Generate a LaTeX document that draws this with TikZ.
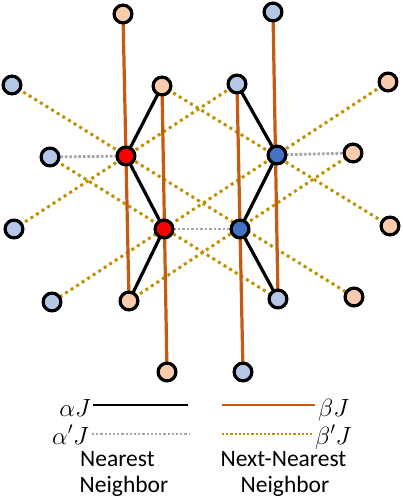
\documentclass[tikz,border=0pt]{standalone}
\usepackage{fontspec}
\setmainfont{Carlito}
\usetikzlibrary{backgrounds}
\definecolor{redN}{HTML}{FF0000}
\definecolor{blueN}{HTML}{4472C4}
\definecolor{pinkN}{HTML}{F8CBAD}
\definecolor{lblueN}{HTML}{B4C7E7}
\definecolor{orangeL}{HTML}{C55A11}
\definecolor{goldL}{HTML}{BF9000}
\definecolor{grayL}{HTML}{A5A5A5}
\begin{document}
\begin{tikzpicture}[x=1pt,y=-1pt,
  site/.style={circle,draw=black,line width=3.2pt,minimum size=17.8pt,inner sep=0pt},
  redsite/.style={site,fill=redN},
  bluesite/.style={site,fill=blueN},
  pinksite/.style={site,fill=pinkN},
  lbluesite/.style={site,fill=lblueN},
  nn/.style={draw=black,line width=3.2pt},
  nnp/.style={draw=grayL,line width=2.8pt,dash pattern=on 2.7pt off 1.8pt},
  nnn/.style={draw=orangeL,line width=3.2pt},
  nnnp/.style={draw=goldL,line width=3pt,dash pattern=on 3pt off 3.6pt},
  lab/.style={inner sep=0pt,font=\fontsize{23.5}{28}\selectfont},
  mlab/.style={inner sep=0pt,text height=16pt,text depth=0.5pt,font=\fontsize{25}{30}\selectfont}]
\useasboundingbox (0,0) rectangle (402,500);
% central sites
\node[redsite] (A) at (126,156) {};
\node[bluesite] (B) at (277,155) {};
\node[redsite] (C) at (164,229) {};
\node[bluesite] (D) at (240,229) {};
% outer sites
\node[pinksite] (p1) at (123,14) {};
\node[pinksite] (p2) at (162,86) {};
\node[lbluesite] (l1) at (12,85) {};
\node[lbluesite] (l2) at (50,157) {};
\node[lbluesite] (l3) at (273,12) {};
\node[lbluesite] (l4) at (237,84) {};
\node[pinksite] (p3) at (388,82) {};
\node[pinksite] (p4) at (353,153) {};
\node[lbluesite] (l5) at (14,229) {};
\node[lbluesite] (l6) at (52,302) {};
\node[pinksite] (p5) at (129,301) {};
\node[pinksite] (p6) at (167,372) {};
\node[pinksite] (p7) at (390,226) {};
\node[lbluesite] (l7) at (278,299) {};
\node[pinksite] (p8) at (354,297) {};
\node[lbluesite] (l8) at (243,372) {};
\begin{pgfonlayer}{background}
  % next-nearest primed (gold dotted)
  \draw[nnnp] (l1.center) -- (p8.center);
  \draw[nnnp] (l5.center) -- (l4.center);
  \draw[nnnp] (p2.center) -- (p7.center);
  \draw[nnnp] (p3.center) -- (l6.center);
  \draw[nnnp] (l2.center) -- (l7.center);
  \draw[nnnp] (p5.center) -- (p4.center);
  % nearest primed (gray dotted)
  \draw[nnp] (A.center) -- (l2.center);
  \draw[nnp] (C.center) -- (D.center);
  \draw[nnp] (B.center) -- (p4.center);
  % next-nearest (orange)
  \draw[nnn] (p1.center) -- (p5.center);
  \draw[nnn] (p2.center) -- (p6.center);
  \draw[nnn] (l4.center) -- (l8.center);
  \draw[nnn] (l3.center) -- (l7.center);
  % nearest (black)
  \draw[nn] (A.center) -- (p2.center);
  \draw[nn] (A.center) -- (C.center);
  \draw[nn] (C.center) -- (p5.center);
  \draw[nn] (B.center) -- (l4.center);
  \draw[nn] (B.center) -- (D.center);
  \draw[nn] (D.center) -- (l7.center);
\end{pgfonlayer}
% legend
\coordinate (k1a) at (93,405);  \coordinate (k1b) at (188,405);
\coordinate (k2a) at (222,405); \coordinate (k2b) at (315,405);
\coordinate (k3a) at (92,434);  \coordinate (k3b) at (190,434);
\coordinate (k4a) at (222,434); \coordinate (k4b) at (312,434);
\draw[draw=black,line width=2.8pt] (k1a) -- (k1b);
\draw[draw=orangeL,line width=2.8pt] (k2a) -- (k2b);
\draw[draw=grayL,line width=2.2pt,dash pattern=on 2.2pt off 2pt] (k3a) -- (k3b);
\draw[draw=goldL,line width=2.2pt,dash pattern=on 2.2pt off 2pt] (k4a) -- (k4b);
\node[mlab,anchor=base east] (ta) at (91,416) {$\alpha J$};
\node[mlab,anchor=base west] (tb) at (318,416) {$\beta J$};
\node[mlab,anchor=base east] (tap) at (89,444) {$\alpha' J$};
\node[mlab,anchor=base west] (tbp) at (315,444) {$\beta' J$};
\node[lab,anchor=base west] (n1) at (80,466) {Nearest};
\node[lab,anchor=base west] (n2) at (79.5,492) {Neighbor};
\node[lab,anchor=base] (n3) at (283.5,466) {Next-Nearest};
\node[lab,anchor=base] (n4) at (285,492) {Neighbor};
\end{tikzpicture}
\end{document}
